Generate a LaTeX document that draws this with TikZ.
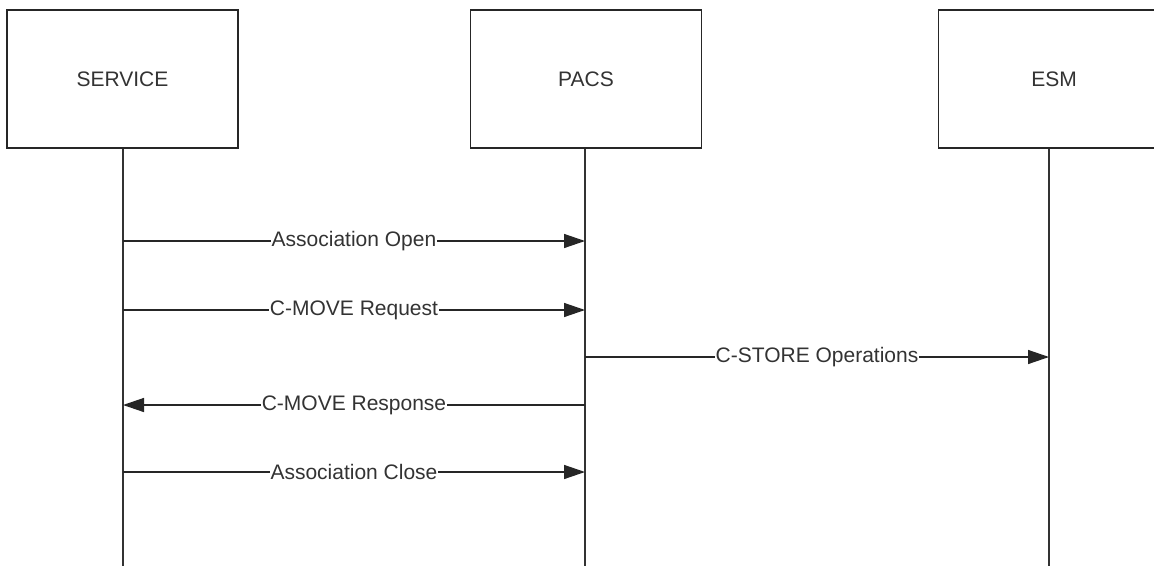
\documentclass[tikz,border=0pt]{standalone}
\usepackage{fontspec}
\setmainfont{Liberation Sans}
\usetikzlibrary{arrows.meta}
\begin{document}
\begin{tikzpicture}[x=1pt,y=-1pt,
  actor/.style={draw=black!85,line width=1.6pt,fill=white,minimum width=231pt,minimum height=138pt,inner sep=0pt,font=\fontsize{21}{25}\selectfont,text=black!80},
  life/.style={draw=black!80,line width=1.4pt},
  msg/.style={draw=black!85,line width=1.4pt,-{Triangle[length=21pt,width=14pt]}},
  lbl/.style={fill=white,inner sep=1pt,font=\fontsize{21}{25}\selectfont,text=black!80}]
\useasboundingbox (0,0) rectangle (1154,565);
\clip (0,0) rectangle (1154,565);
\fill[white] (0,0) rectangle (1154,565);
% actors
\node[actor] (svc) at (122.5,79) {SERVICE};
\node[actor] (pacs) at (586,79) {PACS};
\node[actor] (esm) at (1054,79) {ESM};
% lifeline ends
\coordinate (svcE) at (123,566);
\coordinate (pacsE) at (585,566);
\coordinate (esmE) at (1049,566);
\draw[life] (svc.south -| svcE) -- (svcE);
\draw[life] (pacs.south -| pacsE) -- (pacsE);
\draw[life] (esm.south -| esmE) -- (esmE);
% message anchors
\coordinate (s1) at (123,241); \coordinate (p1) at (585,241);
\coordinate (s2) at (123,310); \coordinate (p2) at (585,310);
\coordinate (p3) at (585,357); \coordinate (e3) at (1049,357);
\coordinate (s4) at (123,405); \coordinate (p4) at (585,405);
\coordinate (s5) at (123,472); \coordinate (p5) at (585,472);
% messages
\draw[msg] (s1) -- node[lbl] {Association Open} (p1);
\draw[msg] (s2) -- node[lbl] {C-MOVE Request} (p2);
\draw[msg] (p3) -- node[lbl] {C-STORE Operations} (e3);
\draw[msg] (p4) -- node[lbl] {C-MOVE Response} (s4);
\draw[msg] (s5) -- node[lbl] {Association Close} (p5);
\end{tikzpicture}
\end{document}
